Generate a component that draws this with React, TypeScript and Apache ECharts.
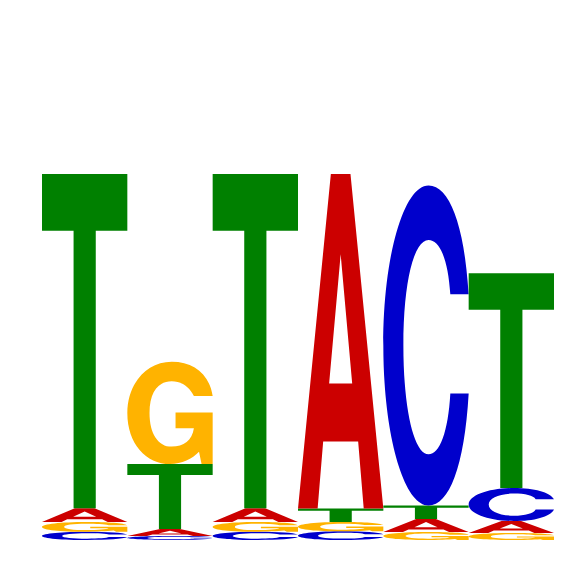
import { useEffect, useRef } from "react";
import * as echarts from "echarts";

// sequence logo: information (bits) per letter at each position
const positions = [1, 2, 3, 4, 5, 6];
const letters = ["A", "C", "G", "T"];
const aBits = [0.055, 0.028, 0.055, 1.338, 0.052, 0.048];
const cBits = [0.033, 0.016, 0.033, 0.035, 1.28, 0.132];
const gBits = [0.039, 0.409, 0.039, 0.037, 0.032, 0.028];
const tBits = [1.337, 0.26, 1.337, 0.054, 0.054, 0.859];

const colors: Record<string, string> = {
  A: "#cc0000",
  C: "#0000cc",
  G: "#ffb300",
  T: "#008000",
};

// glyph outlines in a 100x100 box, stretched to the slot
const glyphs: Record<string, string> = {
  A: "M0,100 L38.5,0 L61.5,0 L100,100 L77,100 L70.5,80 L29.5,80 L23,100 Z M36.5,62.6 L63.5,62.6 L50,24 Z",
  C: "M100,34 C95,12 77,0 53,0 C24,0 0,22 0,50 C0,78 24,100 53,100 C77,100 95,88 100,65 L78.5,65 C76,77 66,84 53,84 C36,84 23.5,70 23.5,50 C23.5,30 36,17 53,17 C66,17 76,23 78.5,34 Z",
  G: "M100,33.5 C96,12 78,0 52,0 C22,0 0,22 0,50 C0,80 22,100 50,100 C64,100 76,95 84,88 L87,100 L100,100 L100,49.7 L56.5,49.7 L56.5,65 L78,65 C76,77 66,83 52,83 C36,83 26,70 26,50 C26,30 36,19 52,19 C64,19 73,25 78,33.5 Z",
  T: "M0,0 L100,0 L100,17 L63,17 L63,100 L37,100 L37,17 L0,17 Z",
};

export default function App() {
  const ref = useRef<HTMLDivElement>(null);

  useEffect(() => {
    if (!ref.current) return;
    const chart = echarts.init(ref.current, undefined, { renderer: "svg" });

    const bits = [aBits, cBits, gBits, tBits];
    const data: number[][] = [];
    positions.forEach((_, i) => {
      // smallest at the bottom
      const order = letters
        .map((_, li) => li)
        .sort((a, b) => bits[a][i] - bits[b][i]);
      let base = 0;
      order.forEach((li) => {
        const h = bits[li][i];
        data.push([i, base, base + h, li]);
        base += h;
      });
    });

    chart.setOption({
      animation: false,
      grid: { left: 42, right: 12, top: 40, bottom: 26 },
      xAxis: { type: "value", min: 0, max: positions.length, show: false },
      yAxis: { type: "value", min: 0, max: 2, show: false },
      series: [
        {
          type: "custom",
          clip: false,
          data,
          renderItem: (_params: any, api: any) => {
            const pos = api.value(0);
            const y0 = api.value(1);
            const y1 = api.value(2);
            const letter = letters[api.value(3)];
            const tl = api.coord([pos, y1]);
            const br = api.coord([pos + 1, y0]);
            return {
              type: "path",
              shape: {
                pathData: glyphs[letter],
                x: tl[0],
                y: tl[1],
                width: br[0] - tl[0],
                height: br[1] - tl[1],
                layout: "cover",
              },
              style: { fill: colors[letter] },
            };
          },
        },
      ],
    });

    return () => chart.dispose();
  }, []);

  return (
    <div
      ref={ref}
      style={{ position: "fixed", left: 0, top: 0, width: 566, height: 566 }}
    />
  );
}
